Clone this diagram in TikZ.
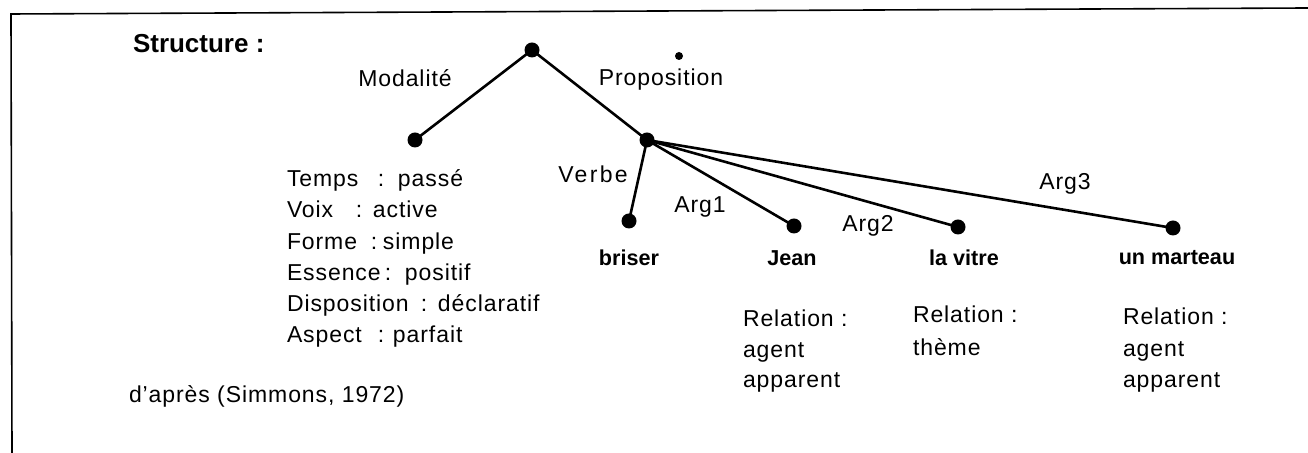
\documentclass[tikz,border=0pt]{standalone}
\usepackage{fontspec}
\setmainfont{Liberation Sans}
\newfontfamily\lsfont[LetterSpace=4]{Liberation Sans}
\newfontfamily\wsfont[LetterSpace=10]{Liberation Sans}
\newcommand{\mline}[4]{\makebox[#1pt][l]{#3}\makebox[\dimexpr#2pt-#1pt\relax][l]{:}#4}
\begin{document}
\begin{tikzpicture}[x=0.5pt,y=-0.5pt,
  every node/.style={inner sep=0pt, outer sep=0pt},
  reg/.style={font=\lsfont\fontsize{11.5}{14}\selectfont},
  dot/.style={circle, fill=black, minimum size=7.5pt, inner sep=0pt},
  smalldot/.style={circle, fill=black, minimum size=4pt, inner sep=0pt},
  edge/.style={line width=1.3pt},
  lbl/.style={reg, anchor=base},
  word/.style={anchor=base, font=\fontsize{10.8}{13}\selectfont\bfseries},
  txt/.style={reg, anchor=base west},
  frame/.style={line width=0.8pt}]
\useasboundingbox (0,0) rectangle (1308,453);
% frame
\coordinate (f1) at (1308,8);
\coordinate (f0) at (11,14);
\coordinate (f2) at (12,453);
\draw[frame] (f1) -- (f0) -- (f2);
% title
\node[anchor=base west, font=\fontsize{13}{15}\selectfont\bfseries] (title) at (133,53) {Structure :};
% dots
\node[dot] (root) at (532,50) {};
\node[smalldot] (stray) at (679,56) {};
\node[dot] (mod) at (415,140) {};
\node[dot] (prop) at (647,140) {};
\node[dot] (brs) at (629,221) {};
\node[dot] (jean) at (794,226) {};
\node[dot] (vitre) at (958,227) {};
\node[dot] (mart) at (1173,228) {};
% edges
\draw[edge] (root.center) -- (mod.center);
\draw[edge] (root.center) -- (prop.center);
\draw[edge] (prop.center) -- (brs.center);
\draw[edge] (prop.center) -- (jean.center);
\draw[edge] (prop.center) -- (vitre.center);
\draw[edge] (prop.center) -- (mart.center);
% edge labels
\node[lbl] (lmod) at (405,87) {Modalité};
\node[lbl] (lprop) at (661,86) {Proposition};
\node[anchor=base, font=\wsfont\fontsize{11.5}{14}\selectfont] (lverbe) at (593,183) {Verbe};
\node[lbl] (larg1) at (700,213) {Arg1};
\node[lbl] (larg2) at (868,232) {Arg2};
\node[lbl] (larg3) at (1065,190) {Arg3};
% words
\node[word] (wbrs) at (629,266) {briser};
\node[word] (wjean) at (792,266) {Jean};
\node[word] (wvitre) at (964,266) {la vitre};
\node[word] (wmart) at (1177,265) {un marteau};
% modalities
\node[txt] (m1) at (287,187) {\mline{45.5}{55.5}{Temps}{passé}};
\node[txt] (m2) at (287,218) {\mline{34.5}{43}{Voix}{active}};
\node[txt] (m3) at (287,250) {\mline{42}{48}{Forme}{simple}};
\node[txt] (m4) at (287,281) {\mline{49}{59}{Essence}{positif}};
\node[txt] (m5) at (287,312) {\mline{67}{75.5}{Disposition}{déclaratif}};
\node[txt] (m6) at (287,343) {\mline{45.5}{53}{Aspect}{parfait}};
% relations
\node[txt] (r1a) at (743,327) {Relation :};
\node[txt] (r1b) at (743,358) {agent};
\node[txt] (r1c) at (743,388) {apparent};
\node[txt] (r2a) at (913,323) {Relation :};
\node[txt] (r2b) at (913,356) {thème};
\node[txt] (r3a) at (1123,325) {Relation :};
\node[txt] (r3b) at (1123,357) {agent};
\node[txt] (r3c) at (1123,388) {apparent};
% source
\node[txt] (src) at (129,403) {d’après (Simmons, 1972)};
\end{tikzpicture}
\end{document}
